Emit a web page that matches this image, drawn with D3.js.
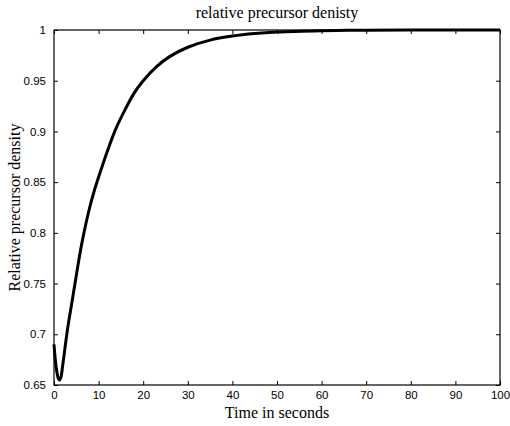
<!DOCTYPE html>
<html>
<head>
<meta charset="utf-8">
<script src="https://cdn.jsdelivr.net/npm/d3@7"></script>
<style>
  body { margin: 0; background: #fff; }
  svg { display: block; }
</style>
</head>
<body>
<div id="chart"></div>
<script>
// Data
const timeSec = [0, 0.5, 1, 1.2, 1.5, 2, 3, 4, 5, 6, 7, 8, 9, 10, 12, 14, 16, 18, 20, 23, 26, 30, 35, 40, 45, 50, 60, 70, 80, 90, 100];
const density = [0.690, 0.667, 0.656, 0.655, 0.657, 0.671, 0.704, 0.731, 0.758, 0.784, 0.806, 0.825, 0.841, 0.855, 0.881, 0.904, 0.922, 0.938, 0.950, 0.964, 0.974, 0.983, 0.990, 0.994, 0.9965, 0.998, 0.9993, 0.9998, 1.0, 1.0, 1.0];
const xTicks = [0, 10, 20, 30, 40, 50, 60, 70, 80, 90, 100];
const yTicks = [0.65, 0.7, 0.75, 0.8, 0.85, 0.9, 0.95, 1];

const width = 510, height = 426;
const margin = {top: 30, right: 10, bottom: 41, left: 54};
const plotW = width - margin.left - margin.right;
const plotH = height - margin.top - margin.bottom;

const svg = d3.select("#chart")
    .append("svg")
    .attr("width", width)
    .attr("height", height);

const g = svg.append("g")
    .attr("transform", `translate(${margin.left}, ${margin.top})`);

const x = d3.scaleLinear().domain([0, 100]).range([0, plotW]);
const y = d3.scaleLinear().domain([0.65, 1]).range([plotH, 0]);

const tickFont = "Liberation Sans, Arial, sans-serif";
const serif = "Liberation Serif, Times New Roman, serif";

// axes (ticks inside, MATLAB style)
const styleAxis = sel => {
    sel.select(".domain").remove();
    sel.selectAll("line").attr("stroke", "#000");
    sel.selectAll("text").style("font-family", tickFont).style("font-size", "11.5px").attr("fill", "#000");
};

g.append("g")
    .attr("transform", `translate(0, ${plotH})`)
    .call(d3.axisBottom(x).tickValues(xTicks).tickSizeInner(-4).tickSizeOuter(0).tickPadding(6).tickFormat(d3.format("d")))
    .call(styleAxis);

g.append("g")
    .call(d3.axisLeft(y).tickValues(yTicks).tickSizeInner(-4).tickSizeOuter(0).tickPadding(8).tickFormat(d => String(d)))
    .call(styleAxis);

// top and right ticks
g.append("g")
    .call(d3.axisTop(x).tickValues(xTicks).tickSizeInner(-4).tickSizeOuter(0).tickFormat(""))
    .call(styleAxis);

g.append("g")
    .attr("transform", `translate(${plotW}, 0)`)
    .call(d3.axisRight(y).tickValues(yTicks).tickSizeInner(-4).tickSizeOuter(0).tickFormat(""))
    .call(styleAxis);

// frame box
g.append("rect")
    .attr("x", 0).attr("y", 0)
    .attr("width", plotW).attr("height", plotH)
    .attr("fill", "none")
    .attr("stroke", "#000")
    .attr("stroke-width", 1.2);

// curve
const line = d3.line()
    .x((d, i) => x(timeSec[i]))
    .y(d => y(d))
    .curve(d3.curveCatmullRom.alpha(0.5));

g.append("path")
    .datum(density)
    .attr("fill", "none")
    .attr("stroke", "#000")
    .attr("stroke-width", 3)
    .attr("stroke-linejoin", "round")
    .attr("d", line);

// title and labels
svg.append("text")
    .attr("x", margin.left + plotW / 2)
    .attr("y", 18)
    .attr("text-anchor", "middle")
    .style("font-family", serif)
    .style("font-size", "16px")
    .text("relative precursor denisty");

svg.append("text")
    .attr("x", margin.left + plotW / 2)
    .attr("y", 418)
    .attr("text-anchor", "middle")
    .style("font-family", serif)
    .style("font-size", "16px")
    .text("Time in seconds");

svg.append("text")
    .attr("transform", `translate(20, ${margin.top + plotH / 2}) rotate(-90)`)
    .attr("text-anchor", "middle")
    .style("font-family", serif)
    .style("font-size", "16px")
    .text("Relative precursor density");
</script>
</body>
</html>
